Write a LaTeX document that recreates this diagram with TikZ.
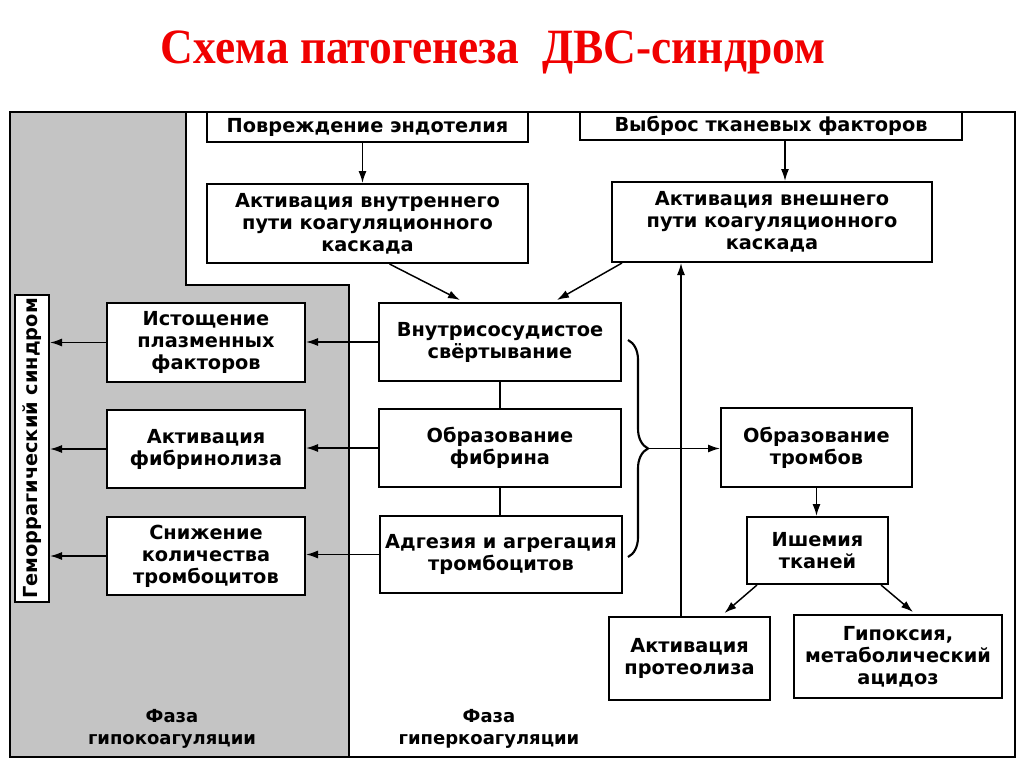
\documentclass[tikz,border=0pt]{standalone}
\usepackage{fontspec}
\setmainfont{DejaVu Sans}
\newfontfamily\titlefont[FakeStretch=0.92]{Liberation Serif}
\usetikzlibrary{arrows.meta,calc,decorations.pathreplacing}
\definecolor{titlered}{RGB}{240,0,0}
\definecolor{phasegray}{RGB}{196,196,196}
\begin{document}
\begin{tikzpicture}[x=0.75pt,y=-0.75pt,
  box/.style={draw=black,line width=1.5pt,fill=white,align=center,inner sep=0pt,
    font=\fontsize{14.5}{16.5}\selectfont\bfseries},
  bx/.style 2 args={minimum width=#1*0.75pt,minimum height=#2*0.75pt},
  arr/.style={line width=1.1pt,-{Latex[length=9pt,width=6pt]}},
  ln/.style={line width=1.1pt},
  lbl/.style={align=center,inner sep=0pt,font=\fontsize{13.5}{17}\selectfont\bfseries}]
\useasboundingbox (0,0) rectangle (1024,767);
% title
\node[text=titlered,font=\titlefont\fontsize{37}{42}\selectfont\bfseries] (title) at (493,52) {Схема патогенеза\ \ ДВС-синдром};
% gray phase area and frame
\fill[fill=phasegray] (10,112) -- (186,112) -- (186,285) -- (349,285) -- (349,757) -- (10,757) -- cycle;
\draw[line width=1.5pt] (186,112) -- (186,285) -- (349,285) -- (349,757);
\draw[line width=1.5pt] (10,112) rectangle (1015,757);
% boxes
\node[box,bx={321}{30}] (pov) at (367.5,127) {Повреждение эндотелия};
\node[box,bx={382}{28}] (vyb) at (771,126) {Выброс тканевых факторов};
\node[box,bx={321}{79}] (vnut) at (367.5,223.5) {Активация внутреннего\\пути коагуляционного\\каскада};
\node[box,bx={320}{80}] (vnesh) at (772,222) {Активация внешнего\\пути коагуляционного\\каскада};
\node[box,bx={242}{78}] (ivs) at (500,342) {Внутрисосудистое\\свёртывание};
\node[box,bx={242}{78}] (fib) at (500,448) {Образование\\фибрина};
\node[box,bx={242}{77}] (adg) at (501,554.5) {Адгезия и агрегация\\тромбоцитов};
\node[box,bx={198}{79}] (ist) at (206,342.5) {Истощение\\плазменных\\факторов};
\node[box,bx={198}{78}] (afib) at (206,449) {Активация\\фибринолиза};
\node[box,bx={198}{78}] (sniz) at (206,556) {Снижение\\количества\\тромбоцитов};
\node[box,rotate=90,bx={307}{34}] (gem) at (32,448.5) {Геморрагический синдром};
\node[box,bx={191}{79}] (trom) at (816.5,447.5) {Образование\\тромбов};
\node[box,bx={141}{67}] (ish) at (817.5,550.5) {Ишемия\\тканей};
\node[box,bx={161}{83}] (prot) at (689.5,658.5) {Активация\\протеолиза};
\node[box,bx={208}{83}] (gip) at (898,656.5) {Гипоксия,\\метаболический\\ацидоз};
% phase labels
\node[lbl] (hypo) at (172,729) {Фаза\\гипокоагуляции};
\node[lbl] (hyper) at (489,729) {Фаза\\гиперкоагуляции};
% connectors
\draw[arr] ($(pov.south)+(-5,0)$) -- ($(vnut.north)+(-5,0)$);
\draw[arr] ($(vyb.south)+(14,0)$) -- ($(vnesh.north)+(13,0)$);
\draw[arr] ($(vnut.south)+(22,0)$) -- ($(ivs.north)+(-40,-2)$);
\draw[arr] ($(vnesh.south west)+(11,0)$) -- ($(ivs.north)+(57,-2)$);
\draw[arr] (ivs.west) -- (ivs.west -| ist.east);
\draw[arr] (fib.west) -- (fib.west -| afib.east);
\draw[arr] (adg.west) -- (adg.west -| sniz.east);
\draw[arr] (ist.west) -- (ist.west -| gem.south);
\draw[arr] (afib.west) -- (afib.west -| gem.south);
\draw[arr] (sniz.west) -- (sniz.west -| gem.south);
\draw[ln] (ivs.south) -- (fib.north);
\draw[ln] (fib.south) -- (fib.south |- adg.north);
\draw[line width=1.6pt,decorate,decoration={brace,amplitude=15pt}] (628,340) -- (628,557);
\coordinate (bt) at (648,448.5);
\draw[arr] (bt) -- (bt -| trom.west);
\coordinate (pv) at (681,617);
\draw[arr] (prot.north -| pv) -- (vnesh.south -| pv);
\draw[arr] (trom.south) -- (trom.south |- ish.north);
\draw[arr] ($(ish.south west)+(11,0)$) -- ($(prot.north)+(35,-3)$);
\draw[arr] ($(ish.south east)+(-8,0)$) -- ($(gip.north)+(15,-2)$);
\end{tikzpicture}
\end{document}
